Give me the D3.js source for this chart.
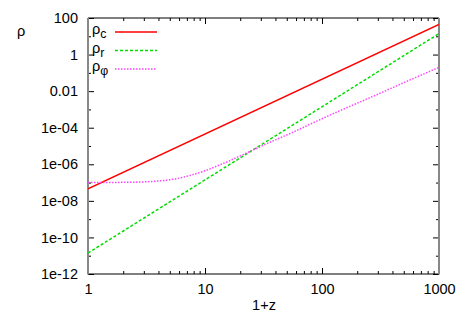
<!DOCTYPE html>
<html><head><meta charset="utf-8">
<script src="https://cdn.jsdelivr.net/npm/d3@7"></script>
<style>body{margin:0;background:#fff}text{font-family:"Liberation Sans",Arial,sans-serif}</style>
</head><body><svg id="c" width="463" height="324"></svg>
<script>
// Data
const zC = [1, 1000];
const rhoC = [4.5e-8, 45];
const zR = [1, 1000];
const rhoR = [1.4e-11, 14];
const zPhi = [1, 1.5, 2, 2.5, 3, 4, 5, 6, 7, 8, 10, 12, 16, 20, 24, 35, 50, 80, 117, 200, 300, 500, 1000];
const rhoPhi = [1.0e-7, 1.01e-7, 1.03e-7, 1.05e-7, 1.09e-7, 1.22e-7, 1.43e-7, 1.75e-7, 2.2e-7, 2.8e-7, 4.4e-7, 7.0e-7, 1.5e-6, 2.9e-6, 4.9e-6, 1.5e-5, 4.0e-5, 1.6e-4, 4.9e-4, 2.2e-3, 6.8e-3, 2.9e-2, 0.2];
const xTicks = [1, 10, 100, 1000];
const xTickLabels = ["1", "10", "100", "1000"];
const yTicks = [1e2, 1, 1e-2, 1e-4, 1e-6, 1e-8, 1e-10, 1e-12];
const yTickLabels = ["100", "1", "0.01", "1e-04", "1e-06", "1e-08", "1e-10", "1e-12"];
const seriesNames = ["c", "r", "\u03c6"];

const svg = d3.select("#c");
const L = 88, R = 439, T = 18, B = 274;
const x = d3.scaleLog().domain([1, 1000]).range([L, R]);
const y = d3.scaleLog().domain([1e-12, 100]).range([B, T]);
const fs = 14.5;

// minor ticks
const xMinor = [];
for (let d = 1; d < 1000; d *= 10) for (let k = 2; k <= 9; k++) xMinor.push(d * k);
const yMinor = [];
for (let e = -11; e <= 1; e += 2) yMinor.push(Math.pow(10, e));

const g = svg.append("g");
// bottom axis
g.append("g").attr("transform", `translate(0,${B})`)
  .call(d3.axisBottom(x).tickValues(xTicks).tickSize(-6).tickFormat((d, i) => xTickLabels[i]).tickPadding(10))
  .call(a => { a.select(".domain").remove(); a.selectAll("line").attr("stroke", "#000"); a.selectAll("text").attr("font-size", fs).attr("fill", "#000").attr("font-family", "Liberation Sans, Arial"); });
g.append("g").attr("transform", `translate(0,${B})`)
  .call(d3.axisBottom(x).tickValues(xMinor).tickSize(-3).tickFormat(""))
  .call(a => a.select(".domain").remove());
// top mirrored ticks
g.append("g").attr("transform", `translate(0,${T})`)
  .call(d3.axisTop(x).tickValues(xTicks).tickSize(-6).tickFormat(""))
  .call(a => a.select(".domain").remove());
g.append("g").attr("transform", `translate(0,${T})`)
  .call(d3.axisTop(x).tickValues(xMinor).tickSize(-3).tickFormat(""))
  .call(a => a.select(".domain").remove());
// left axis
g.append("g").attr("transform", `translate(${L},0)`)
  .call(d3.axisLeft(y).tickValues(yTicks).tickSize(-6).tickFormat((d, i) => yTickLabels[i]).tickPadding(10))
  .call(a => { a.select(".domain").remove(); a.selectAll("text").attr("font-size", fs).attr("fill", "#000").attr("font-family", "Liberation Sans, Arial"); });
g.append("g").attr("transform", `translate(${L},0)`)
  .call(d3.axisLeft(y).tickValues(yMinor).tickSize(-3).tickFormat(""))
  .call(a => a.select(".domain").remove());
// right mirrored ticks
g.append("g").attr("transform", `translate(${R},0)`)
  .call(d3.axisRight(y).tickValues(yTicks).tickSize(-6).tickFormat(""))
  .call(a => a.select(".domain").remove());
g.append("g").attr("transform", `translate(${R},0)`)
  .call(d3.axisRight(y).tickValues(yMinor).tickSize(-3).tickFormat(""))
  .call(a => a.select(".domain").remove());

// border
svg.append("line").attr("x1", L).attr("x2", R).attr("y1", T).attr("y2", T).attr("stroke", "#000");
svg.append("line").attr("x1", L).attr("x2", R).attr("y1", B).attr("y2", B).attr("stroke", "#000");
svg.append("line").attr("x1", L).attr("x2", L).attr("y1", T).attr("y2", B + 0.5).attr("stroke", "#888").attr("stroke-width", 2);
svg.append("line").attr("x1", R).attr("x2", R).attr("y1", T).attr("y2", B + 0.5).attr("stroke", "#888").attr("stroke-width", 2);

// lines
const line = d3.line().x(d => x(d[0])).y(d => y(d[1])).curve(d3.curveMonotoneX);
const series = [
  {z: zC, v: rhoC, color: "#ff0000", dash: null},
  {z: zR, v: rhoR, color: "#00dd00", dash: "3,2"},
  {z: zPhi, v: rhoPhi, color: "#ff44ff", dash: "1.5,1.5"}
];
svg.append("clipPath").attr("id", "pc").append("rect").attr("x", L).attr("y", T).attr("width", R - L).attr("height", B - T);
series.forEach(s => {
  svg.append("path").attr("clip-path", "url(#pc)")
    .datum(s.z.map((z, i) => [z, s.v[i]]))
    .attr("d", line).attr("fill", "none").attr("stroke", s.color)
    .attr("stroke-width", 1.5).attr("stroke-dasharray", s.dash);
});

// legend
const ly = [32, 50.5, 69];
series.forEach((s, i) => {
  svg.append("line").attr("x1", 115).attr("x2", 157).attr("y1", ly[i]).attr("y2", ly[i])
    .attr("stroke", s.color).attr("stroke-width", 1.5).attr("stroke-dasharray", s.dash);
  const t = svg.append("text").attr("x", 92).attr("y", ly[i] + 2).attr("font-size", fs);
  t.append("tspan").text("\u03c1");
  t.append("tspan").attr("dy", 4).attr("font-size", fs * 0.85).text(seriesNames[i]);
});

// axis labels
svg.append("text").attr("x", 21).attr("y", 36).attr("text-anchor", "middle").attr("font-size", fs).text("\u03c1");
svg.append("text").attr("x", 264).attr("y", 310).attr("text-anchor", "middle").attr("font-size", fs).text("1+z");
</script></body></html>
